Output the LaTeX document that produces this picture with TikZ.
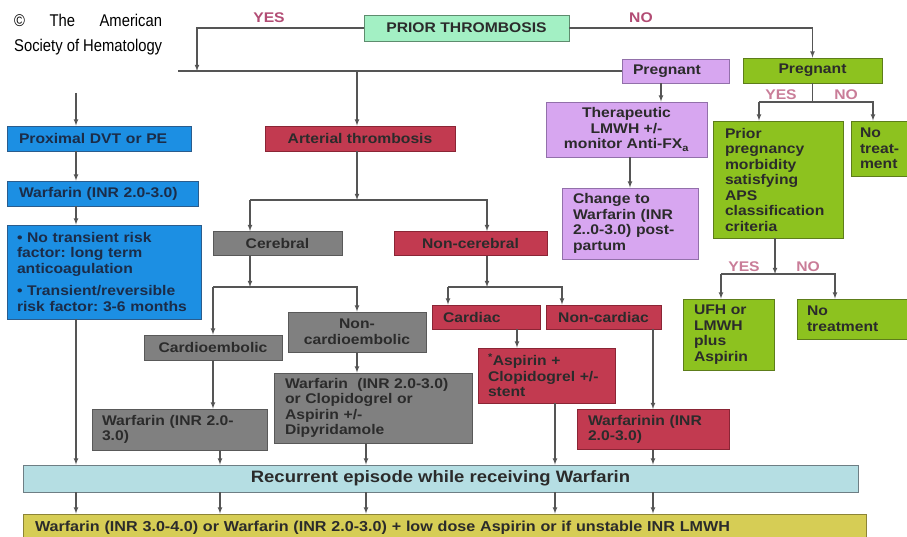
\documentclass[tikz,border=0pt]{standalone}
\usepackage{fontspec}
\setmainfont[FakeStretch=1.12]{Liberation Sans}
\newfontfamily\ashfont{Liberation Sans}
\usetikzlibrary{calc}
\definecolor{priorgreen}{HTML}{A3F0C4}
\definecolor{priorline}{HTML}{5E8C6E}
\definecolor{dvtblue}{HTML}{1C8FE3}
\definecolor{dvtline}{HTML}{2B5C8C}
\definecolor{dvttext}{HTML}{1B2C48}
\definecolor{artred}{HTML}{C23A50}
\definecolor{artline}{HTML}{8A2535}
\definecolor{cerebgray}{HTML}{808080}
\definecolor{cerebline}{HTML}{595959}
\definecolor{preglilac}{HTML}{D7A6F0}
\definecolor{pregline}{HTML}{9270AA}
\definecolor{noprgreen}{HTML}{8DC21F}
\definecolor{noprline}{HTML}{5D7D1A}
\definecolor{recurblue}{HTML}{B5DEE3}
\definecolor{recurline}{HTML}{6E7E84}
\definecolor{outyellow}{HTML}{D6CD55}
\definecolor{yelline}{HTML}{8C8436}
\definecolor{yesno}{HTML}{B24C74}
\definecolor{yesnolight}{HTML}{C97D98}
\definecolor{linkgray}{HTML}{555555}
\definecolor{boxtext}{HTML}{2B2B2B}
\tikzset{link/.style={->,>=latex,draw=linkgray,line width=1.1pt},
  bus/.style={draw=linkgray,line width=1.1pt}
}
\frenchspacing

\begin{document}
\begin{tikzpicture}[x=1pt,y=-1pt]
		\tikzstyle{Box}=[rectangle,draw,line width=0.9pt,inner ysep=1pt,text=boxtext,font=\fontsize{14}{15.5}\selectfont\bfseries]
		\tikzstyle{Prior}=[Box,fill=priorgreen,draw=priorline]
		\tikzstyle{Dvt}=[Box,fill=dvtblue,draw=dvtline,text=dvttext]
		\tikzstyle{Art}=[Box,fill=artred,draw=artline]
		\tikzstyle{Cereb}=[Box,fill=cerebgray,draw=cerebline]
		\tikzstyle{Lilac}=[Box,fill=preglilac,draw=pregline]
		\tikzstyle{NoPrior}=[Box,fill=noprgreen,draw=noprline]
		\tikzstyle{Recur}=[Box,fill=recurblue,draw=recurline,font=\fontsize{16.5}{18}\selectfont\bfseries]
		\tikzstyle{Outcome}=[Box,fill=outyellow,draw=yelline,font=\fontsize{14.4}{16}\selectfont\bfseries]
		\tikzstyle{Answer}=[inner sep=0pt,text=yesno,font=\fontsize{14}{15}\selectfont\bfseries]

		\useasboundingbox (0,0) rectangle (907,537);

		% columns of the vertical connectors
		\foreach \col/\xx in {colA/76,colB/220,colC/250,colD/357,colD2/366,colE/487,colG/517,colG2/555,colH/562,colI/653,colJ/661,colK/630,colL/197,colO/873,colP/775,colR/835}
			\coordinate (\col) at (\xx,0);

		\node [anchor=base west,inner sep=0pt,align=left,font=\ashfont\fontsize{17}{25}\selectfont] (ash) at (14,52) {\scalebox{0.87}[1]{\makebox[170pt][s]{© The American}}\\\scalebox{0.87}[1]{Society of Hematology}};

		\node [Prior,minimum width=205pt,minimum height=26pt] (prior) at (466.5,28) {PRIOR THROMBOSIS};
		\node [Answer] (yesA) at (269,18) {YES};
		\node [Answer] (noA) at (641,18) {NO};

		% prior thrombosis: yes
		\node [Lilac,minimum height=24pt,inner xsep=11pt,text width=85pt,align=left] (pregP) at (675.5,71) {Pregnant};
		\node [Dvt,minimum height=25pt,inner xsep=12pt,text width=160pt,align=left] (proxdvt) at (99,138.5) {Proximal DVT or PE};
		\node [Dvt,minimum height=25pt,inner xsep=12pt,text width=167pt,align=left] (warfblue) at (102.5,193.5) {Warfarin (INR 2.0-3.0)};
		\node [Dvt,minimum height=94pt,inner xsep=10pt,text width=174pt,align=left] (bullet) at (104,272) {• No transient risk\\ factor: long term\\ anticoagulation\\[7pt] • Transient/reversible\\ risk factor: 3-6 months};

		\node [Art,minimum width=190pt,minimum height=25pt] (arterial) at (360,138.5) {Arterial thrombosis};
		\node [Cereb,minimum width=129pt,minimum height=24pt] (cerebral) at (277.5,243.5) {Cerebral};
		\node [Art,minimum width=153pt,minimum height=24pt] (noncereb) at (470.5,243.5) {Non-cerebral};
		\node [Cereb,minimum width=138pt,minimum height=25pt] (cardemb) at (213,347.5) {Cardioembolic};
		\node [Cereb,minimum width=138pt,minimum height=40pt,align=center] (noncardemb) at (357,332) {Non-\\cardioembolic};
		\node [Cereb,minimum height=41pt,inner xsep=10pt,text width=155pt,align=left] (warfgray) at (179.5,429.5) {Warfarin (INR 2.0-\\3.0)};
		\node [Cereb,minimum height=70pt,inner xsep=11pt,text width=176pt,align=left] (biggray) at (373,408) {Warfarin~ (INR 2.0-3.0)\\or Clopidogrel or\\Aspirin +/-\\Dipyridamole};
		\node [Art,minimum height=24pt,inner xsep=11pt,text width=86pt,align=left] (cardiac) at (486,317) {Cardiac};
		\node [Art,minimum width=115pt,minimum height=24pt] (noncard) at (603.5,317) {Non-cardiac};
		\node [Art,minimum height=55pt,inner xsep=10pt,text width=117pt,align=left] (aspirin) at (546.5,375.5) {\textsuperscript{*}Aspirin +\\Clopidogrel +/-\\stent};
		\node [Art,minimum height=40pt,inner xsep=11pt,text width=130pt,align=left] (warfnin) at (653,429.5) {Warfarinin (INR\\2.0-3.0)};

		\node [Lilac,minimum width=161pt,minimum height=55pt,align=center] (therap) at (626.5,129.5) {Therapeutic\\LMWH +/-\\monitor Anti-FX\textsubscript{a}};
		\node [Lilac,minimum height=71pt,inner xsep=11pt,text width=114pt,align=left] (change) at (630,223.5) {Change to\\Warfarin (INR\\2..0-3.0) post-\\partum};

		% prior thrombosis: no
		\node [NoPrior,minimum width=139pt,minimum height=25pt] (pregG) at (812.5,70.5) {Pregnant};
		\node [Answer,text=yesnolight] (yesB) at (781,95) {YES};
		\node [Answer,text=yesnolight] (noB) at (846,95) {NO};
		\node [NoPrior,minimum height=117pt,inner xsep=12pt,text width=106pt,align=left] (priorpreg) at (778,179.5) {Prior\\pregnancy\\morbidity\\satisfying\\APS\\classification\\criteria};
		\node [NoPrior,minimum height=55pt,inner xsep=9pt,text width=43pt,align=left] (notreat) at (881.5,148.5) {No\\treat-\\ment};
		\node [Answer,text=yesnolight] (yesC) at (744,267) {YES};
		\node [Answer,text=yesnolight] (noC) at (808,267) {NO};
		\node [NoPrior,minimum height=71pt,inner xsep=11pt,text width=69pt,align=left] (ufh) at (728.5,334.5) {UFH or\\LMWH\\plus\\Aspirin};
		\node [NoPrior,minimum height=40pt,inner xsep=10pt,text width=95pt,align=left] (notreat2) at (854.5,319) {No\\treatment};

		\node [Recur,minimum width=835pt,minimum height=27pt] (recur) at (440.5,478.5) {Recurrent episode while receiving Warfarin};
		\node [Outcome,minimum height=27pt,inner xsep=12pt,text width=819pt,align=left] (outcome) at (444.5,527.5) {Warfarin (INR 3.0-4.0) or Warfarin (INR 2.0-3.0) + low dose Aspirin or if unstable INR LMWH};

		% top split
		\coordinate (yesbus) at (178,71);
		\coordinate (dvtstart) at (76,93);
		\draw [bus] (yesbus) -- (pregP.west);
		\draw [link] (prior.west) -| (yesbus -| colL);
		\draw [link] (prior.east) -| (pregG.north);

		% venous
		\draw [link] (dvtstart) -- (proxdvt.north -| dvtstart);
		\draw [link] (proxdvt.south -| colA) -- (warfblue.north -| colA);
		\draw [link] (warfblue.south -| colA) -- (bullet.north -| colA);

		% arterial
		\coordinate (artbus) at (250,200);
		\coordinate (cerbus) at (213,287);
		\coordinate (ncbus) at (448,287);
		\draw [link] (yesbus -| colD) -- (arterial.north -| colD);
		\draw [link] (arterial.south -| colD) -- (artbus -| colD);
		\draw [link] (artbus) -- (cerebral.north -| artbus);
		\draw [link] (artbus) -| (noncereb.north -| colE);
		\draw [link] (cerebral.south -| colC) -- (cerbus -| colC);
		\draw [link] (cerbus) -- (cardemb.north -| cerbus);
		\draw [link] (cerbus) -| (noncardemb.north -| colD);
		\draw [link] (cardemb.south -| cerbus) -- (warfgray.north -| cerbus);
		\draw [link] (noncardemb.south -| colD) -- (biggray.north -| colD);
		\draw [link] (noncereb.south -| colE) -- (ncbus -| colE);
		\draw [link] (ncbus) -- (cardiac.north -| ncbus);
		\draw [link] (ncbus) -| (noncard.north -| colH);
		\draw [link] (cardiac.south -| colG) -- (aspirin.north -| colG);
		\draw [link] (noncard.south -| colI) -- (warfnin.north -| colI);

		% pregnancy
		\coordinate (gbus) at (759,102);
		\coordinate (ubus) at (721,274);
		\draw [link] (pregP.south -| colJ) -- (therap.north -| colJ);
		\draw [link] (therap.south -| colK) -- (change.north -| colK);
		\draw [bus] (pregG.south) -- (gbus -| pregG.south);
		\draw [link] (gbus) -- (priorpreg.north -| gbus);
		\draw [link] (gbus) -| (notreat.north -| colO);
		\draw [link] (priorpreg.south -| colP) -- (ubus -| colP);
		\draw [link] (ubus) -- (ufh.north -| ubus);
		\draw [link] (ubus) -| (notreat2.north -| colR);

		% recurrence
		\foreach \src/\col in {bullet/colA,warfgray/colB,biggray/colD2,aspirin/colG2,warfnin/colI}
		{
			\draw [link] (\src.south -| \col) -- (recur.north -| \col);
			\draw [link] (recur.south -| \col) -- (outcome.north -| \col);
		}
\end{tikzpicture}
\end{document}
